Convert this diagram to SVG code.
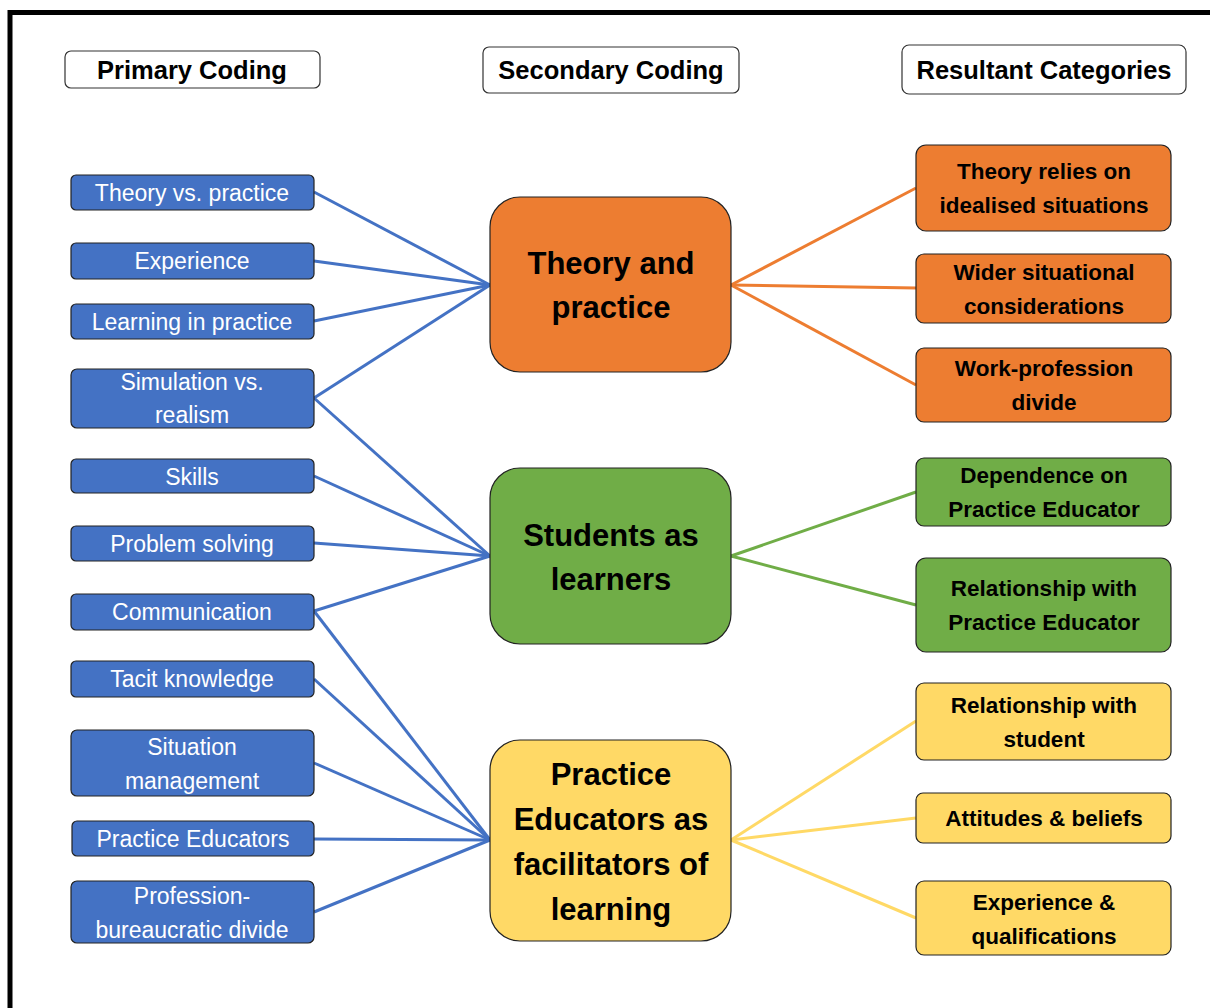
<svg xmlns="http://www.w3.org/2000/svg" width="1210" height="1008" viewBox="0 0 1210 1008">
<style>
.hdr{fill:#fff;stroke:#333;stroke-width:1.2}
.ht{font-family:"Liberation Sans",Arial,sans-serif;font-weight:bold;font-size:25.5px;fill:#000;text-anchor:middle}
.blue{fill:#4472C4;stroke:#222;stroke-width:1.2}
.bt{font-family:"Liberation Sans",Arial,sans-serif;font-size:23px;fill:#fff;text-anchor:middle}
.org{fill:#ED7D31;stroke:#222;stroke-width:1.2}
.grn{fill:#70AD47;stroke:#222;stroke-width:1.2}
.yel{fill:#FFD966;stroke:#222;stroke-width:1.2}
.mt{font-family:"Liberation Sans",Arial,sans-serif;font-weight:bold;font-size:31px;fill:#000;text-anchor:middle}
.rt{font-family:"Liberation Sans",Arial,sans-serif;font-weight:bold;font-size:22.5px;fill:#000;text-anchor:middle}
.cb{stroke:#4472C4;stroke-width:3;fill:none}
.co{stroke:#ED7D31;stroke-width:3;fill:none}
.cg{stroke:#70AD47;stroke-width:3;fill:none}
.cy{stroke:#FFD966;stroke-width:3;fill:none}
</style>
<rect width="1210" height="1008" fill="#fff"/>
<path d="M10,1008 V12.5 H1210" fill="none" stroke="#000" stroke-width="5"/>

<g id="connectors">
<line class="cb" x1="314" y1="192" x2="490" y2="285"/>
<line class="cb" x1="314" y1="261" x2="490" y2="285"/>
<line class="cb" x1="314" y1="321" x2="490" y2="285"/>
<line class="cb" x1="314" y1="398" x2="490" y2="285"/>
<line class="cb" x1="314" y1="398" x2="490" y2="556"/>
<line class="cb" x1="314" y1="476" x2="490" y2="556"/>
<line class="cb" x1="314" y1="543" x2="490" y2="556"/>
<line class="cb" x1="314" y1="611" x2="490" y2="556"/>
<line class="cb" x1="314" y1="611" x2="490" y2="840"/>
<line class="cb" x1="314" y1="679" x2="490" y2="840"/>
<line class="cb" x1="314" y1="763" x2="490" y2="840"/>
<line class="cb" x1="314" y1="839" x2="490" y2="840"/>
<line class="cb" x1="314" y1="912" x2="490" y2="840"/>
<line class="co" x1="731" y1="285" x2="916" y2="188"/>
<line class="co" x1="731" y1="285" x2="916" y2="288"/>
<line class="co" x1="731" y1="285" x2="916" y2="385"/>
<line class="cg" x1="731" y1="556" x2="916" y2="492"/>
<line class="cg" x1="731" y1="556" x2="916" y2="605"/>
<line class="cy" x1="731" y1="840" x2="916" y2="721"/>
<line class="cy" x1="731" y1="840" x2="916" y2="818"/>
<line class="cy" x1="731" y1="840" x2="916" y2="918"/>
</g>

<g id="h-primary"><rect class="hdr" x="65" y="51" width="255" height="37" rx="6"/><text class="ht" x="192" y="79">Primary Coding</text></g>
<g id="h-secondary"><rect class="hdr" x="483" y="47" width="256" height="46" rx="6"/><text class="ht" x="611" y="79">Secondary Coding</text></g>
<g id="h-resultant"><rect class="hdr" x="902" y="45" width="284" height="49" rx="7"/><text class="ht" x="1044" y="79">Resultant Categories</text></g>

<g id="p-theory"><rect class="blue" x="71" y="175" width="243" height="35" rx="5"/><text class="bt" x="192" y="201">Theory vs. practice</text></g>
<g id="p-experience"><rect class="blue" x="71" y="243" width="243" height="36" rx="5"/><text class="bt" x="192" y="269">Experience</text></g>
<g id="p-learning"><rect class="blue" x="71" y="304" width="243" height="35" rx="5"/><text class="bt" x="192" y="330">Learning in practice</text></g>
<g id="p-simulation"><rect class="blue" x="71" y="369" width="243" height="59" rx="6"/><text class="bt" x="192" y="390">Simulation vs.</text><text class="bt" x="192" y="423">realism</text></g>
<g id="p-skills"><rect class="blue" x="71" y="459" width="243" height="34" rx="5"/><text class="bt" x="192" y="485">Skills</text></g>
<g id="p-problem"><rect class="blue" x="71" y="526" width="243" height="35" rx="5"/><text class="bt" x="192" y="552">Problem solving</text></g>
<g id="p-communication"><rect class="blue" x="71" y="594" width="243" height="36" rx="5"/><text class="bt" x="192" y="620">Communication</text></g>
<g id="p-tacit"><rect class="blue" x="71" y="661" width="243" height="36" rx="5"/><text class="bt" x="192" y="687">Tacit knowledge</text></g>
<g id="p-situation"><rect class="blue" x="71" y="730" width="243" height="66" rx="6"/><text class="bt" x="192" y="755">Situation</text><text class="bt" x="192" y="789">management</text></g>
<g id="p-educators"><rect class="blue" x="72" y="821" width="242" height="35" rx="5"/><text class="bt" x="193" y="847">Practice Educators</text></g>
<g id="p-profession"><rect class="blue" x="71" y="881" width="243" height="62" rx="6"/><text class="bt" x="192" y="904">Profession-</text><text class="bt" x="192" y="938">bureaucratic divide</text></g>

<g id="s-theory"><rect class="org" x="490" y="197" width="241" height="175" rx="30"/><text class="mt" x="611" y="274">Theory and</text><text class="mt" x="611" y="318">practice</text></g>
<g id="s-students"><rect class="grn" x="490" y="468" width="241" height="176" rx="30"/><text class="mt" x="611" y="546">Students as</text><text class="mt" x="611" y="590">learners</text></g>
<g id="s-educators"><rect class="yel" x="490" y="740" width="241" height="201" rx="30"/><text class="mt" x="611" y="785">Practice</text><text class="mt" x="611" y="830">Educators as</text><text class="mt" x="611" y="875">facilitators of</text><text class="mt" x="611" y="920">learning</text></g>

<g id="r-idealised"><rect class="org" x="916" y="145" width="255" height="86" rx="10"/><text class="rt" x="1044" y="179">Theory relies on</text><text class="rt" x="1044" y="213">idealised situations</text></g>
<g id="r-wider"><rect class="org" x="916" y="254" width="255" height="69" rx="8"/><text class="rt" x="1044" y="280">Wider situational</text><text class="rt" x="1044" y="314">considerations</text></g>
<g id="r-work"><rect class="org" x="916" y="348" width="255" height="74" rx="8"/><text class="rt" x="1044" y="376">Work-profession</text><text class="rt" x="1044" y="410">divide</text></g>
<g id="r-dependence"><rect class="grn" x="916" y="458" width="255" height="68" rx="8"/><text class="rt" x="1044" y="483">Dependence on</text><text class="rt" x="1044" y="517">Practice Educator</text></g>
<g id="r-relpe"><rect class="grn" x="916" y="558" width="255" height="94" rx="10"/><text class="rt" x="1044" y="596">Relationship with</text><text class="rt" x="1044" y="630">Practice Educator</text></g>
<g id="r-relstudent"><rect class="yel" x="916" y="683" width="255" height="77" rx="8"/><text class="rt" x="1044" y="713">Relationship with</text><text class="rt" x="1044" y="747">student</text></g>
<g id="r-attitudes"><rect class="yel" x="916" y="793" width="255" height="50" rx="7"/><text class="rt" x="1044" y="826">Attitudes &amp; beliefs</text></g>
<g id="r-experience"><rect class="yel" x="916" y="881" width="255" height="74" rx="8"/><text class="rt" x="1044" y="910">Experience &amp;</text><text class="rt" x="1044" y="944">qualifications</text></g>
</svg>
